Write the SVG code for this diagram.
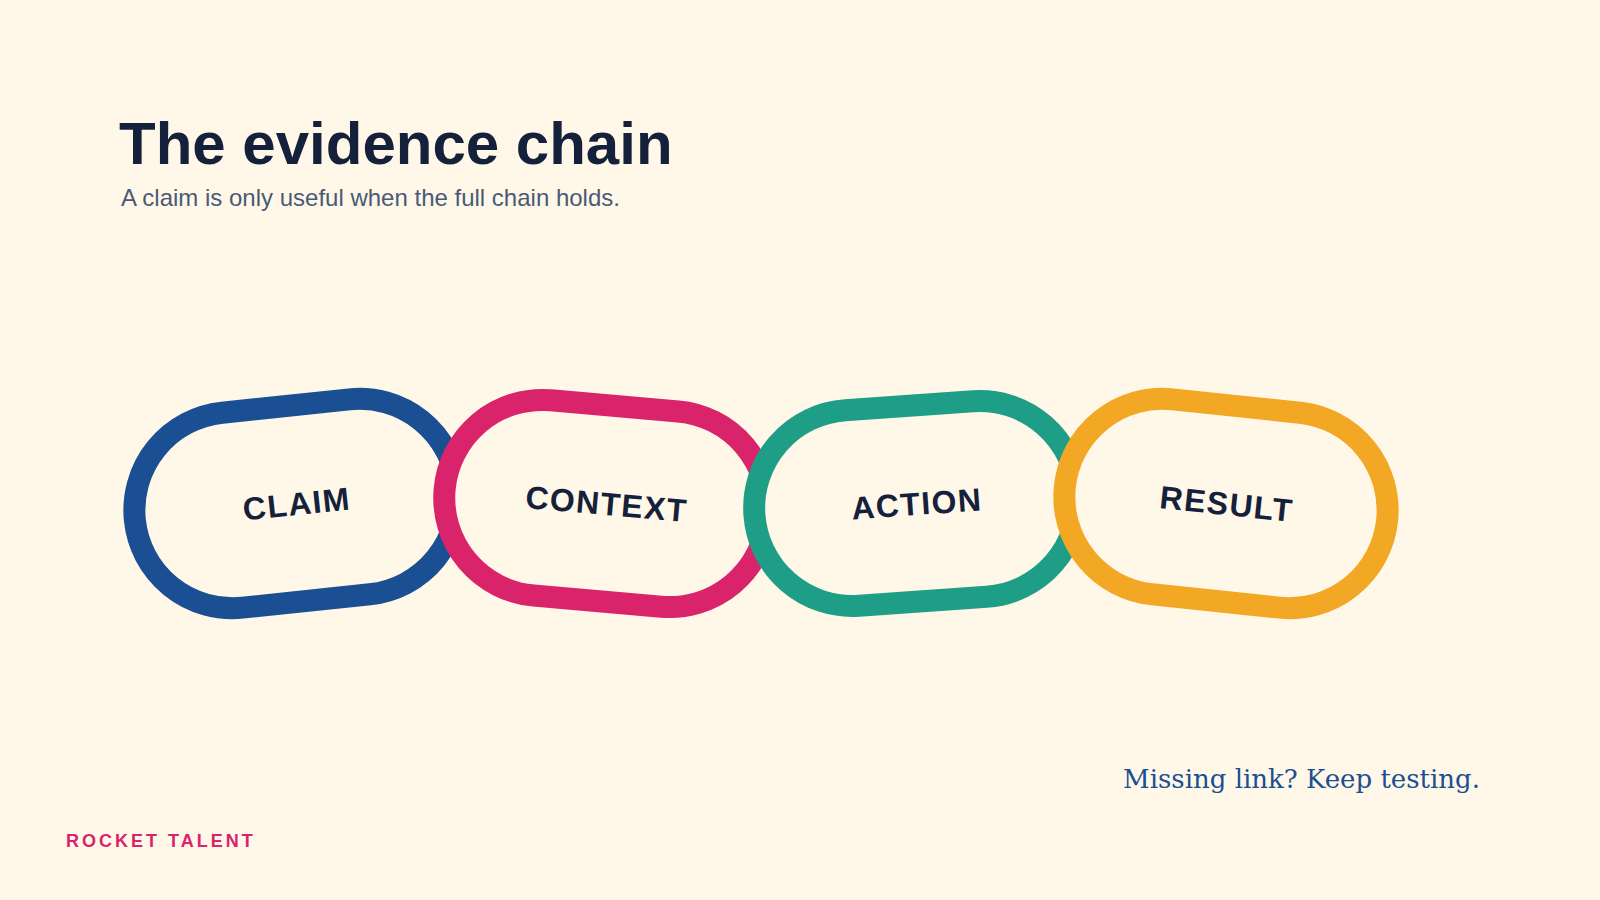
<svg xmlns="http://www.w3.org/2000/svg" width="1600" height="900" viewBox="0 0 1600 900">
  <style>
    .link { fill: #fff8e8; stroke-width: 22; }
    .label { font-family: "Liberation Sans", Arial, sans-serif; font-weight: bold; font-size: 32px; letter-spacing: 1.4px; fill: #15213b; text-anchor: middle; }
    .title { font-family: "Liberation Sans", Arial, sans-serif; font-weight: bold; font-size: 60px; fill: #15213b; }
    .subtitle { font-family: "Liberation Sans", Arial, sans-serif; font-size: 24px; fill: #4b5a74; }
    .tagline { font-family: Georgia, "DejaVu Serif", serif; font-size: 26px; fill: #1a4f93; text-anchor: end; }
    .brand { font-family: "Liberation Sans", Arial, sans-serif; font-weight: bold; font-size: 18px; letter-spacing: 3px; fill: #d9246b; }
  </style>
  <rect width="1600" height="900" fill="#fff8e8"/>
  <g id="header">
    <text class="title" x="119" y="164">The evidence chain</text>
    <text class="subtitle" x="121" y="206">A claim is only useful when the full chain holds.</text>
  </g>
  <g id="connectors"/>
  <g id="node-claim" transform="translate(296,503.5) rotate(-6)">
    <rect class="link" x="-162" y="-98" width="324" height="196" rx="98" ry="98" stroke="#1a4f93"/>
    <text class="label" x="0.7" y="11.5">CLAIM</text>
  </g>
  <g id="node-context" transform="translate(606,503.5) rotate(5)">
    <rect class="link" x="-162" y="-98" width="324" height="196" rx="98" ry="98" stroke="#d9246b"/>
    <text class="label" x="0.7" y="11.5">CONTEXT</text>
  </g>
  <g id="node-action" transform="translate(916,503.5) rotate(-4)">
    <rect class="link" x="-162" y="-98" width="324" height="196" rx="98" ry="98" stroke="#1f9e87"/>
    <text class="label" x="0.7" y="11.5">ACTION</text>
  </g>
  <g id="node-result" transform="translate(1226,503.5) rotate(6)">
    <rect class="link" x="-162" y="-98" width="324" height="196" rx="98" ry="98" stroke="#f2a825"/>
    <text class="label" x="0.7" y="11.5">RESULT</text>
  </g>
  <g id="footer">
    <text class="tagline" x="1480" y="788">Missing link? Keep testing.</text>
    <text class="brand" x="66" y="847">ROCKET TALENT</text>
  </g>
</svg>
